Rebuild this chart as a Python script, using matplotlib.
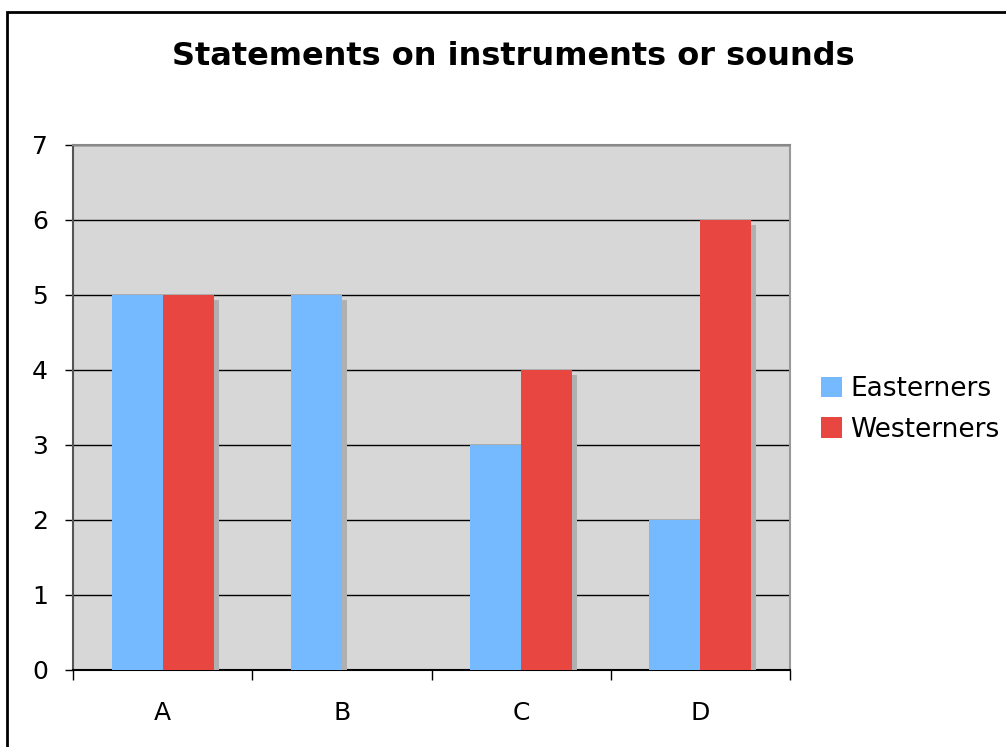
import numpy as np
import matplotlib
matplotlib.use("Agg")
from matplotlib import pyplot as plt
from matplotlib import patheffects
from matplotlib.patches import Rectangle, Patch

# donnees du graphique
categories = ["A", "B", "C", "D"]
easterners = [5, 5, 3, 2]
westerners = [5, 0, 4, 6]
series_names = ["Easterners", "Westerners"]

BLUE = "#75b9ff"
RED = "#e74641"
SHADOW = "#b0b0b0"

plt.rcParams["font.family"] = "DejaVu Sans"

fig = plt.figure(figsize=(10.06, 7.47), dpi=100)
ax = fig.add_axes([0.0726, 0.1031, 0.7127, 0.7028])
ax.set_facecolor("#d7d7d7")

# cadre noir autour de la figure
fig.patches.append(Rectangle((0.007, -0.1), 1.2, 1.084, transform=fig.transFigure,
                             fill=False, edgecolor="black", linewidth=2))

x = np.arange(len(categories))
width = 0.285
shadow = [patheffects.SimplePatchShadow(offset=(3.6, -3.6), shadow_rgbFace=SHADOW, alpha=1.0),
          patheffects.Normal()]

b1 = ax.bar(x - width / 2, easterners, width, color=BLUE, zorder=3)
b2 = ax.bar(x + width / 2, westerners, width, color=RED, zorder=3)
for bars in (b1, b2):
    for p in bars:
        if p.get_height() > 0:
            p.set_path_effects(shadow)

ax.set_xlim(-0.5, len(categories) - 0.5)
ax.set_ylim(0, 7)
ax.set_yticks(range(0, 8))
ax.grid(axis="y", color="black", linewidth=1, zorder=1)
ax.set_axisbelow(True)

# graduations x aux limites des categories
ax.set_xticks(x)
ax.set_xticklabels(categories)
ax.set_xticks(np.arange(-0.5, len(categories)), minor=True)
ax.tick_params(axis="x", which="major", length=0, pad=22, labelsize=18)
ax.tick_params(axis="x", which="minor", length=7, width=1, color="black")
ax.tick_params(axis="y", length=6, width=1, color="black", pad=12, labelsize=18)

ax.spines["left"].set_color("#555555")
ax.spines["bottom"].set_color("black")
ax.spines["top"].set_color("#888888")
ax.spines["right"].set_color("#999999")
for s in ax.spines.values():
    s.set_linewidth(1.5)

fig.text(0.51, 0.925, "Statements on instruments or sounds", ha="center", va="center",
         fontsize=23, fontweight="bold")

# legende sans ombre
handles = [Patch(facecolor=BLUE, label=series_names[0]),
           Patch(facecolor=RED, label=series_names[1])]
fig.legend(handles=handles, loc="center left", bbox_to_anchor=(0.816, 0.452),
           frameon=False, fontsize=19, handlelength=0.8, handleheight=0.8,
           handletextpad=0.3, labelspacing=0.55, borderaxespad=0, borderpad=0)

fig.savefig("out.png", dpi=100)
